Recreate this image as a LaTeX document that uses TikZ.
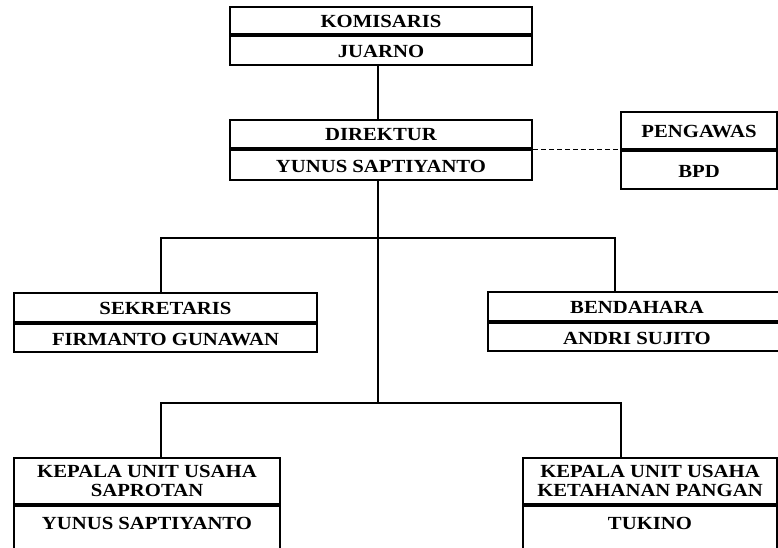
\documentclass[tikz,border=0pt]{standalone}
\usepackage{fontspec}
\setmainfont{Liberation Serif}[FakeStretch=1.12]
\begin{document}
\begin{tikzpicture}[x=1pt,y=-1pt,
  box/.style={draw, line width=2.2pt, inner sep=0pt, align=center,
    font=\fontsize{18.5}{18.5}\selectfont\bfseries},
  one/.style={text height=14pt, text depth=0pt},
  conn/.style={line width=1.9pt},
  dashconn/.style={line width=1pt, dash pattern=on 5pt off 3pt}]
\useasboundingbox (0,0) rectangle (778,548);
\fill[white] (0,0) rectangle (778,548);
% Komisaris
\node[box, one, minimum width=302pt, minimum height=27pt] (kom) at (381,20.5) {KOMISARIS};
\node[box, one, minimum width=302pt, minimum height=29pt, anchor=north] (komB) at (kom.south) {JUARNO};
% Direktur
\node[box, one, minimum width=302pt, minimum height=28pt] (dir) at (381,134) {DIREKTUR};
\node[box, one, minimum width=302pt, minimum height=30pt, anchor=north] (dirB) at (dir.south) {YUNUS SAPTIYANTO};
% Pengawas
\node[box, one, minimum width=156pt, minimum height=37pt] (peng) at (699,130.5) {PENGAWAS};
\node[box, one, minimum width=156pt, minimum height=38pt, anchor=north] (pengB) at (peng.south) {BPD};
% Sekretaris
\node[box, one, minimum width=303pt, minimum height=29pt] (sek) at (165.5,307.5) {SEKRETARIS};
\node[box, one, minimum width=303pt, minimum height=28pt, anchor=north] (sekB) at (sek.south) {FIRMANTO GUNAWAN};
% Bendahara
\node[box, one, minimum width=298pt, minimum height=29pt] (ben) at (637,306.5) {BENDAHARA};
\node[box, one, minimum width=298pt, minimum height=28pt, anchor=north] (benB) at (ben.south) {ANDRI SUJITO};
% Kepala unit usaha saprotan
\node[box, minimum width=266pt, minimum height=46pt] (kl) at (147,481) {KEPALA UNIT USAHA\\SAPROTAN};
\node[box, minimum width=266pt, text height=23pt, text depth=45pt, anchor=north] (klB) at (kl.south) {YUNUS SAPTIYANTO};
% Kepala unit usaha ketahanan pangan
\node[box, minimum width=254pt, minimum height=46pt] (kr) at (650,481) {KEPALA UNIT USAHA\\KETAHANAN PANGAN};
\node[box, minimum width=254pt, text height=23pt, text depth=45pt, anchor=north] (krB) at (kr.south) {TUKINO};
% helper coordinates
\coordinate (spine) at (378,0);
\coordinate (j1) at (378,238);
\coordinate (j2) at (378,403);
\coordinate (lx) at (161,0);
\coordinate (rx1) at (615,0);
\coordinate (rx2) at (621,0);
% connectors
\draw[conn] (komB.south -| spine) -- (dir.north -| spine);
\draw[conn] (dirB.south -| spine) -- (j2);
\draw[conn] (j1) -| (sek.north -| lx);
\draw[conn] (j1) -| (ben.north -| rx1);
\draw[conn] (j2) -| (kl.north -| lx);
\draw[conn] (j2) -| (kr.north -| rx2);
\draw[dashconn] (dirB.north east) -- (dirB.north east -| pengB.west);
\end{tikzpicture}
\end{document}
